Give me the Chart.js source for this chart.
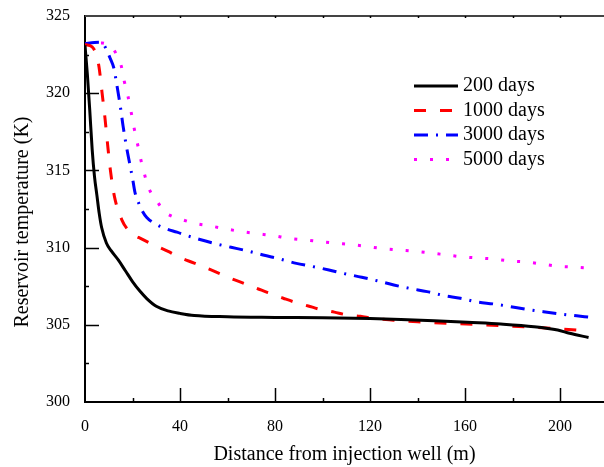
<!DOCTYPE html>
<html>
<head>
<meta charset="utf-8">
<script src="https://cdn.jsdelivr.net/npm/chart.js@4"></script>
<style>
  html, body { margin: 0; padding: 0; background: #fff; overflow: hidden; }
  #wrap { width: 604px; height: 467px; }
</style>
</head>
<body>
<div id="wrap"><canvas id="tempChart"></canvas></div>
<script>
// series labels
const seriesNames = ['200 days', '1000 days', '3000 days', '5000 days'];

// 200 days
const dist200 = [0, 1, 2, 3, 4, 5, 6, 7, 9, 11, 14, 17, 20, 23, 26, 30, 35, 40, 46, 60, 80, 100, 120, 133, 147, 161, 175, 189, 199, 204, 212];
const temp200 = [323.1, 321.2, 318.9, 316.4, 314.6, 313.4, 312.2, 311.3, 310.3, 309.8, 309.2, 308.5, 307.8, 307.2, 306.7, 306.2, 305.9, 305.74, 305.6, 305.52, 305.48, 305.45, 305.4, 305.35, 305.27, 305.16, 305.05, 304.88, 304.66, 304.45, 304.18];

// 1000 days
const dist1000 = [0, 3, 4.5, 5.9, 7.2, 8.4, 9.5, 10.7, 12.4, 15.5, 19, 24, 30, 35, 40, 46, 52, 57, 62, 67, 73, 77, 83.5, 88, 94, 99, 105, 110, 116, 121, 130, 140, 152, 163, 175, 186, 197, 212];
const temp1000 = [323.15, 323.0, 322.6, 321.7, 320.0, 318.4, 316.7, 315.0, 313.3, 311.8, 311.0, 310.55, 310.1, 309.75, 309.35, 309.0, 308.62, 308.3, 307.97, 307.68, 307.32, 307.08, 306.72, 306.48, 306.22, 306.0, 305.82, 305.65, 305.55, 305.42, 305.3, 305.2, 305.1, 305.03, 304.94, 304.87, 304.77, 304.6];

// 3000 days
const dist3000 = [0, 4, 7, 8.8, 10.5, 12.2, 13, 14.2, 15.2, 16, 17.5, 19, 20, 21, 22.3, 24, 26, 30, 34.5, 38.7, 43.5, 48, 55, 61.5, 68, 75, 82, 89, 95, 102.7, 109, 116.5, 123, 130, 137, 144, 151, 158, 165, 172, 179, 186, 193, 200, 207, 212];
const temp3000 = [323.2, 323.28, 323.3, 322.9, 322.3, 321.6, 320.9, 319.8, 318.8, 317.9, 316.5, 315.3, 314.5, 313.6, 313.0, 312.4, 311.95, 311.5, 311.2, 311.0, 310.75, 310.54, 310.25, 310.02, 309.8, 309.52, 309.26, 308.98, 308.8, 308.55, 308.32, 308.08, 307.85, 307.58, 307.35, 307.15, 306.9, 306.72, 306.48, 306.35, 306.18, 306.0, 305.85, 305.7, 305.58, 305.5];

// 5000 days
const dist5000 = [0, 4, 7.2, 10, 12.2, 13.8, 15.2, 16.5, 18.1, 19.4, 20.6, 22, 23.2, 24.8, 26.7, 29.9, 33.7, 37, 40, 46.3, 52.9, 59.6, 66.2, 72.7, 79.4, 86, 92.6, 99.2, 106, 112.6, 119.2, 125.8, 132.4, 139, 145.7, 152.4, 159, 165.5, 172, 179, 185.7, 192, 198.7, 205.5, 211.8];
const temp5000 = [323.2, 323.25, 323.25, 323.1, 322.8, 322.3, 321.8, 320.8, 319.8, 318.8, 317.8, 316.8, 315.9, 314.9, 313.9, 313.1, 312.3, 312.0, 311.85, 311.57, 311.4, 311.2, 311.03, 310.9, 310.77, 310.6, 310.5, 310.38, 310.28, 310.19, 310.06, 309.93, 309.84, 309.76, 309.65, 309.52, 309.4, 309.33, 309.26, 309.13, 309.07, 308.94, 308.8, 308.74, 308.68];

const xTitle = 'Distance from injection well (m)';
const yTitle = 'Reservoir temperature (K)';

const serif = 'Liberation Serif, Times New Roman, serif';

function toPoints(xs, ys) {
  return xs.map((x, i) => ({ x: x, y: ys[i] }));
}

const styles = [
  { color: '#000000', dash: [] },
  { color: '#ff0000', dash: [12, 14] },
  { color: '#0000ff', dash: [14, 8, 2, 8] },
  { color: '#ff00ff', dash: [3, 13] }
];

const allData = [
  toPoints(dist200, temp200),
  toPoints(dist1000, temp1000),
  toPoints(dist3000, temp3000),
  toPoints(dist5000, temp5000)
];

// inward ticks, top frame, legend and rotated y title
const framePlugin = {
  id: 'framePlugin',
  afterDraw(chart) {
    const ctx = chart.ctx;
    const area = chart.chartArea;
    const xs = chart.scales.x;
    const ys = chart.scales.y;
    ctx.save();

    // top frame line
    ctx.strokeStyle = '#444';
    ctx.lineWidth = 2;
    ctx.beginPath();
    ctx.moveTo(area.left, area.top);
    ctx.lineTo(chart.width, area.top);
    ctx.stroke();

    ctx.strokeStyle = '#000';
    ctx.lineWidth = 1.5;
    xs.ticks.forEach(t => {
      const px = Math.round(xs.getPixelForValue(t.value)) + 0.5;
      const major = t.value % 40 === 0;
      if (t.value === 0) return;
      ctx.beginPath();
      ctx.moveTo(px, area.bottom);
      ctx.lineTo(px, area.bottom - (major ? 14 : 4));
      ctx.stroke();
      ctx.beginPath();
      ctx.moveTo(px, area.top);
      ctx.lineTo(px, area.top + 2);
      ctx.stroke();
    });
    ys.ticks.forEach(t => {
      const py = Math.round(ys.getPixelForValue(t.value)) + 0.5;
      const major = t.value % 5 === 0;
      if (t.value === 300 || t.value === 325) return;
      ctx.beginPath();
      ctx.moveTo(area.left, py);
      ctx.lineTo(area.left + (major ? 14 : 4), py);
      ctx.stroke();
    });

    // legend
    ctx.font = '20px ' + serif;
    ctx.textBaseline = 'middle';
    ctx.textAlign = 'left';
    chart.data.datasets.forEach((ds, i) => {
      const y = 86 + i * 24.5;
      ctx.strokeStyle = ds.borderColor;
      ctx.lineWidth = 3;
      ctx.setLineDash(ds.borderDash || []);
      ctx.beginPath();
      ctx.moveTo(414, y);
      ctx.lineTo(458, y);
      ctx.stroke();
      ctx.setLineDash([]);
      ctx.fillStyle = '#000';
      ctx.fillText(ds.label, 463, y);
    });

    // y axis title
    ctx.translate(23, (area.top + area.bottom) / 2 + 13);
    ctx.rotate(-Math.PI / 2);
    ctx.textAlign = 'center';
    ctx.fillText(yTitle, 0, 0);
    ctx.restore();
  }
};

const ctx = document.getElementById('tempChart').getContext('2d');
new Chart(ctx, {
  type: 'scatter',
  data: {
    datasets: seriesNames.map((name, i) => ({
      label: name,
      data: allData[i],
      showLine: true,
      borderColor: styles[i].color,
      borderDash: styles[i].dash,
      borderWidth: 3,
      pointRadius: 0,
      fill: false,
      cubicInterpolationMode: 'monotone'
    }))
  },
  options: {
    responsive: true,
    maintainAspectRatio: false,
    animation: false,
    layout: { padding: { top: 16, right: 0, left: 0, bottom: 0 } },
    plugins: {
      legend: { display: false },
      tooltip: { enabled: false }
    },
    scales: {
      x: {
        type: 'linear',
        min: 0,
        max: 218.5,
        afterFit: s => { s.height = 65; s.paddingLeft = 0; s.paddingRight = 0; },
        grid: { display: false, drawTicks: false },
        border: { display: true, color: '#000', width: 2 },
        ticks: {
          stepSize: 20,
          includeBounds: false,
          maxRotation: 0,
          autoSkip: false,
          padding: 15,
          color: '#000',
          font: { family: serif, size: 16 },
          callback: v => (v % 40 === 0 ? v : '')
        },
        title: {
          display: true,
          text: xTitle,
          color: '#000',
          font: { family: serif, size: 20 },
          padding: { top: 0, bottom: 0 }
        }
      },
      y: {
        type: 'linear',
        min: 300,
        max: 325,
        afterFit: s => { s.width = 85; s.paddingTop = 0; s.paddingBottom = 0; },
        grid: { display: false, drawTicks: false },
        border: { display: true, color: '#000', width: 2 },
        ticks: {
          stepSize: 2.5,
          autoSkip: false,
          padding: 15,
          color: '#000',
          font: { family: serif, size: 16 },
          callback: v => (v % 5 === 0 ? v : '')
        }
      }
    }
  },
  plugins: [framePlugin]
});
</script>
</body>
</html>
